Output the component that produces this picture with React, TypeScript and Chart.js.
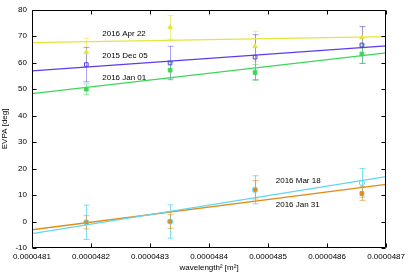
import React, { useEffect, useRef } from "react";
import { Chart, registerables } from "chart.js";

Chart.register(...registerables);

// Observation wavelength^2 [m^2]
const xValues = [4.8192e-5, 4.8334e-5, 4.8478e-5, 4.8659e-5];
const xTickValues = [4.81e-5, 4.82e-5, 4.83e-5, 4.84e-5, 4.85e-5, 4.86e-5, 4.87e-5];
const yTickValues = [-10, 0, 10, 20, 30, 40, 50, 60, 70, 80];
const fitX = [4.81e-5, 4.87e-5];

const seriesNames = ["2016 Apr 22", "2015 Dec 05", "2016 Jan 01", "2016 Mar 18", "2016 Jan 31"];

const apr22Values = [64.0, 73.4, 66.2, 69.5];
const apr22Errors = [5.3, 4.5, 5.7, 4.0];
const apr22Fit = [67.6, 69.9];

const dec05Values = [59.3, 59.9, 62.1, 66.7];
const dec05Errors = [6.5, 6.3, 8.5, 7.0];
const dec05Fit = [56.9, 66.4];

const jan01Values = [50.0, 57.2, 56.3, 63.3];
const jan01Errors = [2.0, 3.0, 3.0, 3.5];
const jan01Fit = [48.3, 63.7];

const mar18Values = [-0.3, 0.0, 12.0, 14.6];
const mar18Errors = [6.5, 6.3, 5.3, 5.4];
const mar18Fit = [-4.6, 17.0];

const jan31Values = [-0.3, 0.0, 12.0, 10.6];
const jan31Errors = [2.5, 2.6, 3.5, 2.6];
const jan31Fit = [-3.1, 14.0];

// label anchor positions (data coordinates)
const labelX = [4.8219e-5, 4.8219e-5, 4.8219e-5, 4.8513e-5, 4.8513e-5];
const labelY = [70.85, 62.5, 54.4, 15.4, 6.4];

const FONT = "'Liberation Sans', Arial, sans-serif";

const series = [
  { values: apr22Values, errors: apr22Errors, fit: apr22Fit, color: "rgb(228,228,60)", err: "rgba(228,228,60,0.6)", style: "triangle", filled: true },
  { values: dec05Values, errors: dec05Errors, fit: dec05Fit, color: "rgb(90,60,240)", err: "rgba(90,60,240,0.5)", style: "rect", filled: false },
  { values: jan01Values, errors: jan01Errors, fit: jan01Fit, color: "rgb(60,215,90)", err: "rgba(60,215,90,0.5)", style: "rect", filled: true },
  { values: mar18Values, errors: mar18Errors, fit: mar18Fit, color: "rgb(95,215,240)", err: "rgba(95,215,240,0.8)", style: "circle", filled: false },
  { values: jan31Values, errors: jan31Errors, fit: jan31Fit, color: "rgb(225,140,25)", err: "rgba(225,140,25,0.6)", style: "rect", filled: true },
];

export default function App() {
  const ref = useRef<HTMLCanvasElement | null>(null);

  useEffect(() => {
    if (!ref.current) return;
    const datasets: any[] = [];
    series.forEach((s, i) => {
      datasets.push({
        label: seriesNames[i] + " fit",
        data: fitX.map((x, k) => ({ x, y: s.fit[k] })),
        showLine: true,
        borderColor: s.color,
        borderWidth: 1.3,
        pointRadius: 0,
        fill: false,
      });
      datasets.push({
        label: seriesNames[i],
        data: xValues.map((x, k) => ({ x, y: s.values[k] })),
        showLine: false,
        pointStyle: s.style,
        pointRadius: 2.6,
        borderWidth: 1,
        borderColor: s.color,
        backgroundColor: s.filled ? s.color : "rgba(255,255,255,0)",
        errors: s.errors,
        errColor: s.err,
      });
    });

    const errorBars = {
      id: "errorBars",
      beforeDatasetsDraw(chart: any) {
        const ctx = chart.ctx;
        const xs = chart.scales.x;
        const ys = chart.scales.y;
        ctx.save();
        chart.data.datasets.forEach((ds: any) => {
          if (!ds.errors) return;
          ctx.strokeStyle = ds.errColor;
          ctx.lineWidth = 1;
          ds.data.forEach((p: any, k: number) => {
            const px = Math.round(xs.getPixelForValue(p.x)) + 0.5;
            const top = ys.getPixelForValue(p.y + ds.errors[k]);
            const bot = ys.getPixelForValue(p.y - ds.errors[k]);
            ctx.beginPath();
            ctx.moveTo(px, top);
            ctx.lineTo(px, bot);
            ctx.moveTo(px - 3, top);
            ctx.lineTo(px + 3, top);
            ctx.moveTo(px - 3, bot);
            ctx.lineTo(px + 3, bot);
            ctx.stroke();
          });
        });
        ctx.restore();
      },
    };

    const frame = {
      id: "frame",
      afterDatasetsDraw(chart: any) {
        const ctx = chart.ctx;
        const a = chart.chartArea;
        const xs = chart.scales.x;
        const ys = chart.scales.y;
        ctx.save();
        ctx.strokeStyle = "#000";
        ctx.lineWidth = 1;
        const L = Math.round(a.left) + 0.5;
        const R = Math.round(a.right) - 0.5;
        const T = Math.round(a.top) + 0.5;
        const B = Math.round(a.bottom) - 0.5;
        ctx.beginPath();
        ctx.rect(L, T, R - L, B - T);
        const tl = 4;
        xTickValues.forEach((v) => {
          const px = Math.round(xs.getPixelForValue(v)) + 0.5;
          ctx.moveTo(px, B);
          ctx.lineTo(px, B - tl);
          ctx.moveTo(px, T);
          ctx.lineTo(px, T + tl);
        });
        yTickValues.forEach((v) => {
          const py = Math.round(ys.getPixelForValue(v)) + 0.5;
          ctx.moveTo(L, py);
          ctx.lineTo(L + tl, py);
          ctx.moveTo(R, py);
          ctx.lineTo(R - tl, py);
        });
        ctx.stroke();

        ctx.fillStyle = "#000";
        ctx.font = "8px " + FONT;
        ctx.textAlign = "left";
        ctx.textBaseline = "middle";
        seriesNames.forEach((name, i) => {
          ctx.fillText(name, xs.getPixelForValue(labelX[i]), ys.getPixelForValue(labelY[i]));
        });
        ctx.restore();
      },
    };

    const chart = new Chart(ref.current, {
      type: "scatter",
      data: { datasets },
      plugins: [errorBars, frame],
      options: {
        animation: false,
        responsive: false,
        maintainAspectRatio: false,
        layout: { padding: { top: 5, right: 19, left: 0, bottom: 0 } },
        plugins: { legend: { display: false }, tooltip: { enabled: false } },
        scales: {
          x: {
            type: "linear",
            min: 4.81e-5,
            max: 4.87e-5,
            afterBuildTicks: (scale: any) => {
              scale.ticks = xTickValues.map((v) => ({ value: v }));
            },
            afterFit: (scale: any) => {
              scale.height = 27;
            },
            grid: { display: false, drawTicks: false, tickLength: 0 },
            border: { display: false },
            ticks: {
              padding: 4,
              maxRotation: 0,
              autoSkip: false,
              color: "#000",
              font: { size: 8, family: FONT },
              callback: (v: any) => Number(v).toFixed(7),
            },
            title: {
              display: true,
              text: "wavelength² [m²]",
              color: "#000",
              font: { size: 8, family: FONT },
              padding: { top: 0, bottom: 2 },
            },
          },
          y: {
            type: "linear",
            min: -10,
            max: 80,
            afterBuildTicks: (scale: any) => {
              scale.ticks = yTickValues.map((v) => ({ value: v }));
            },
            afterFit: (scale: any) => {
              scale.width = 32;
            },
            grid: { display: false, drawTicks: false, tickLength: 0 },
            border: { display: false },
            ticks: {
              padding: 5,
              autoSkip: false,
              color: "#000",
              font: { size: 8, family: FONT },
            },
            title: {
              display: true,
              text: "EVPA [deg]",
              color: "#000",
              font: { size: 8, family: FONT },
              padding: { top: 0, bottom: 0 },
            },
          },
        },
      },
    });
    return () => chart.destroy();
  }, []);

  return (
    <div style={{ position: "absolute", left: 0, top: 0, width: 409, height: 275, background: "#fff" }}>
      <canvas ref={ref} width={409} height={275} />
    </div>
  );
}
